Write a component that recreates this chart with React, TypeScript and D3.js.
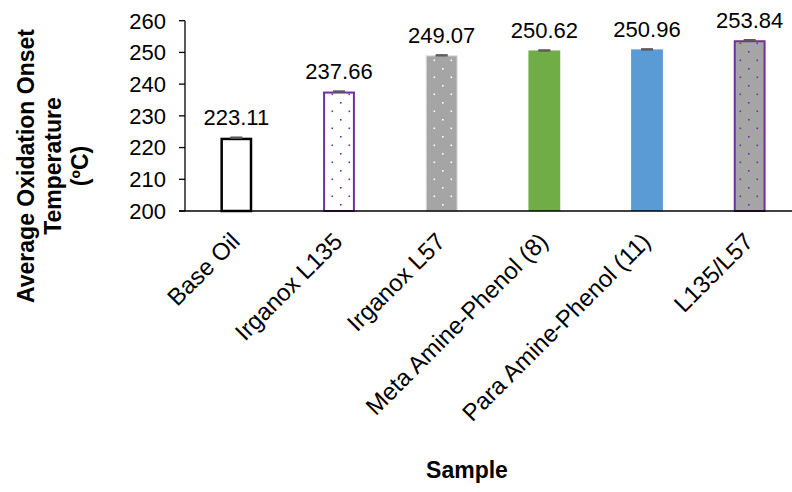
import React from "react";
import * as d3 from "d3";

const categories = ["Base Oil", "Irganox L135", "Irganox L57", "Meta Amine-Phenol (8)", "Para Amine-Phenol (11)", "L135/L57"];
const values = [223.11, 237.66, 249.07, 250.62, 250.96, 253.84];
const errors = [0.15, 0.15, 0.15, 0.15, 0.15, 0.15];
const yTicks = [200, 210, 220, 230, 240, 250, 260];
const fills = ["#FFFFFF", "url(#dotsPurpleWhite)", "url(#dotsWhiteGray)", "#70AD47", "#5B9BD5", "url(#dotsPurpleGray)"];
const strokes = ["#000000", "#7030A0", "#D9D9D9", "#70AD47", "#5B9BD5", "#7030A0"];
const strokeWidths = [2.5, 2, 1, 0, 0, 2];

const W = 792, H = 492;
const left = 185, right = 801, top = 20.7, bottom = 211;
const font = "'Liberation Sans', Arial, sans-serif";

export default function App() {
  const x = d3.scaleBand<string>().domain(categories).range([left, right]).paddingInner(0.69).paddingOuter(0.345);
  const y = d3.scaleLinear().domain([200, 260]).range([bottom, top]);
  const bw = x.bandwidth();
  return (
    <svg width={W} height={H} style={{ position: "absolute", left: 0, top: 0, background: "#fff" }} fontFamily={font}>
      <defs>
        <pattern id="dotsPurpleWhite" width={17} height={17} patternUnits="userSpaceOnUse">
          <rect width={17} height={17} fill="#FFFFFF" />
          <rect x={0} y={0} width={1.6} height={1.6} fill="#7030A0" />
          <rect x={8.5} y={8.5} width={1.6} height={1.6} fill="#7030A0" />
        </pattern>
        <pattern id="dotsWhiteGray" width={17} height={17} patternUnits="userSpaceOnUse">
          <rect width={17} height={17} fill="#A5A5A5" />
          <rect x={0} y={0} width={1.6} height={1.6} fill="#FFFFFF" />
          <rect x={8.5} y={8.5} width={1.6} height={1.6} fill="#FFFFFF" />
        </pattern>
        <pattern id="dotsPurpleGray" width={17} height={17} patternUnits="userSpaceOnUse">
          <rect width={17} height={17} fill="#A5A5A5" />
          <rect x={0} y={0} width={1.6} height={1.6} fill="#7030A0" />
          <rect x={8.5} y={8.5} width={1.6} height={1.6} fill="#7030A0" />
        </pattern>
      </defs>
      {categories.map((c, i) => {
        const x0 = x(c)!;
        const yt = y(values[i]);
        const sw = strokeWidths[i];
        return (
          <rect key={c} x={x0 + sw / 2} y={yt + sw / 2} width={bw - sw} height={bottom - yt - sw / 2}
            fill={fills[i]} stroke={sw > 0 ? strokes[i] : "none"} strokeWidth={sw} />
        );
      })}
      {categories.map((c, i) => {
        const cx = x(c)! + bw / 2;
        const y1 = y(values[i] + errors[i]);
        const y2 = y(values[i] - errors[i]);
        return (
          <g key={"e" + c} stroke="#595959" strokeWidth={1.5}>
            <line x1={cx} x2={cx} y1={y1} y2={y2} />
            <line x1={cx - 6} x2={cx + 6} y1={y1} y2={y1} />
            <line x1={cx - 6} x2={cx + 6} y1={y2} y2={y2} />
          </g>
        );
      })}
      {categories.map((c, i) => (
        <text key={"v" + c} x={x(c)! + bw / 2} y={y(values[i]) - 12.5} textAnchor="middle" fontSize={22} fill="#000">
          {values[i].toFixed(2)}
        </text>
      ))}
      <line x1={left} x2={left} y1={top} y2={bottom} stroke="#000" strokeWidth={1.3} />
      <line x1={179} x2={W} y1={bottom} y2={bottom} stroke="#000" strokeWidth={1.5} />
      {yTicks.map((t) => (
        <g key={t}>
          <line x1={179} x2={left} y1={y(t)} y2={y(t)} stroke="#000" strokeWidth={1.3} />
          <text x={166} y={y(t)} dy="0.36em" textAnchor="end" fontSize={22} fill="#000">{t}</text>
        </g>
      ))}
      {categories.map((c) => {
        const cx = x(c)! + bw / 2;
        return (
          <text key={"c" + c} transform={`translate(${cx + 5},${bottom + 32}) rotate(-45)`} textAnchor="end" fontSize={24} fill="#000">
            {c}
          </text>
        );
      })}
      <text transform={`translate(61,166) rotate(-90)`} textAnchor="middle" fontSize={23} fontWeight="bold" fill="#000">
        <tspan x={0} dy={-27}>Average Oxidation Onset</tspan>
        <tspan x={0} dy={27}>Temperature</tspan>
        <tspan x={0} dy={27}>(ºC)</tspan>
      </text>
      <text x={467} y={478} textAnchor="middle" fontSize={23} fontWeight="bold" fill="#000">Sample</text>
    </svg>
  );
}
